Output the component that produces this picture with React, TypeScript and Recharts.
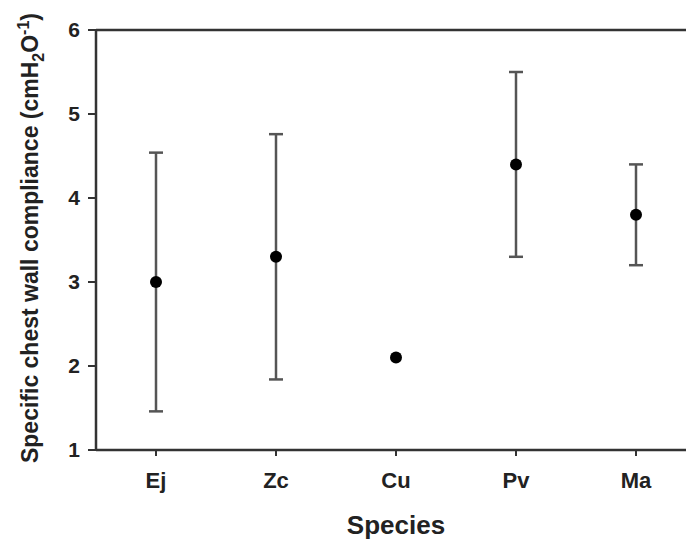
import React from 'react'
import { ComposedChart, Scatter, ErrorBar, XAxis, YAxis, ReferenceLine, Label } from 'recharts'

const species = ['Ej', 'Zc', 'Cu', 'Pv', 'Ma']
const means = [3.0, 3.3, 2.1, 4.4, 3.8]
const errors = [1.54, 1.46, null, 1.1, 0.6]
const yTicks = [1, 2, 3, 4, 5, 6]

const data = species.map((s, i) => ({ species: s, mean: means[i], err: errors[i] }))

const FONT = 'Arial, "Liberation Sans", Helvetica, sans-serif'
const INK = '#222'

function YLabel({ viewBox }: any) {
  const cx = 38
  const cy = viewBox.y + viewBox.height / 2 - 2
  return (
    <text
      x={cx}
      y={cy}
      transform={`rotate(-90, ${cx}, ${cy})`}
      textAnchor="middle"
      fontFamily={FONT}
      fontWeight="bold"
      fontSize={23}
      fill={INK}
    >
      <tspan>Specific chest wall compliance (cmH</tspan>
      <tspan fontSize={16} dy={6}>2</tspan>
      <tspan dy={-6}>O</tspan>
      <tspan fontSize={16} dy={-9}>-1</tspan>
      <tspan dy={9}>)</tspan>
    </text>
  )
}

export default function App() {
  return (
    <div style={{ position: 'fixed', left: 0, top: 0, width: 686, height: 539, overflow: 'hidden', background: '#fff' }}>
      <ComposedChart width={720} height={539} data={data} margin={{ top: 30, right: 24, bottom: 0, left: 0 }}>
        <XAxis
          dataKey="species"
          type="category"
          height={89}
          padding={{ left: 60, right: 60 }}
          axisLine={{ stroke: '#333', strokeWidth: 2.5 }}
          tickLine={{ stroke: '#333', strokeWidth: 2 }}
          tickSize={6}
          tickMargin={16}
          tick={{ fill: INK, fontFamily: FONT, fontWeight: 'bold', fontSize: 22 }}
        >
          <Label
            value="Species"
            position="insideBottom"
            offset={5}
            fill={INK}
            fontFamily={FONT}
            fontWeight="bold"
            fontSize={26}
          />
        </XAxis>
        <YAxis
          type="number"
          domain={[1, 6]}
          ticks={yTicks}
          width={96}
          axisLine={{ stroke: '#333', strokeWidth: 2.5 }}
          tickLine={{ stroke: '#333', strokeWidth: 2 }}
          tickSize={8}
          tickMargin={8}
          tick={{ fill: INK, fontFamily: FONT, fontWeight: 'bold', fontSize: 21 }}
        >
          <Label content={<YLabel />} />
        </YAxis>
        <ReferenceLine y={6} stroke="#333" strokeWidth={2.5} />
        <Scatter dataKey="mean" fill="#000" isAnimationActive={false} shape={(p: any) => <circle cx={p.cx} cy={p.cy} r={6} fill="#000" />}>
          <ErrorBar dataKey="err" direction="y" width={7} stroke="#555" strokeWidth={2.5} />
        </Scatter>
      </ComposedChart>
    </div>
  )
}
